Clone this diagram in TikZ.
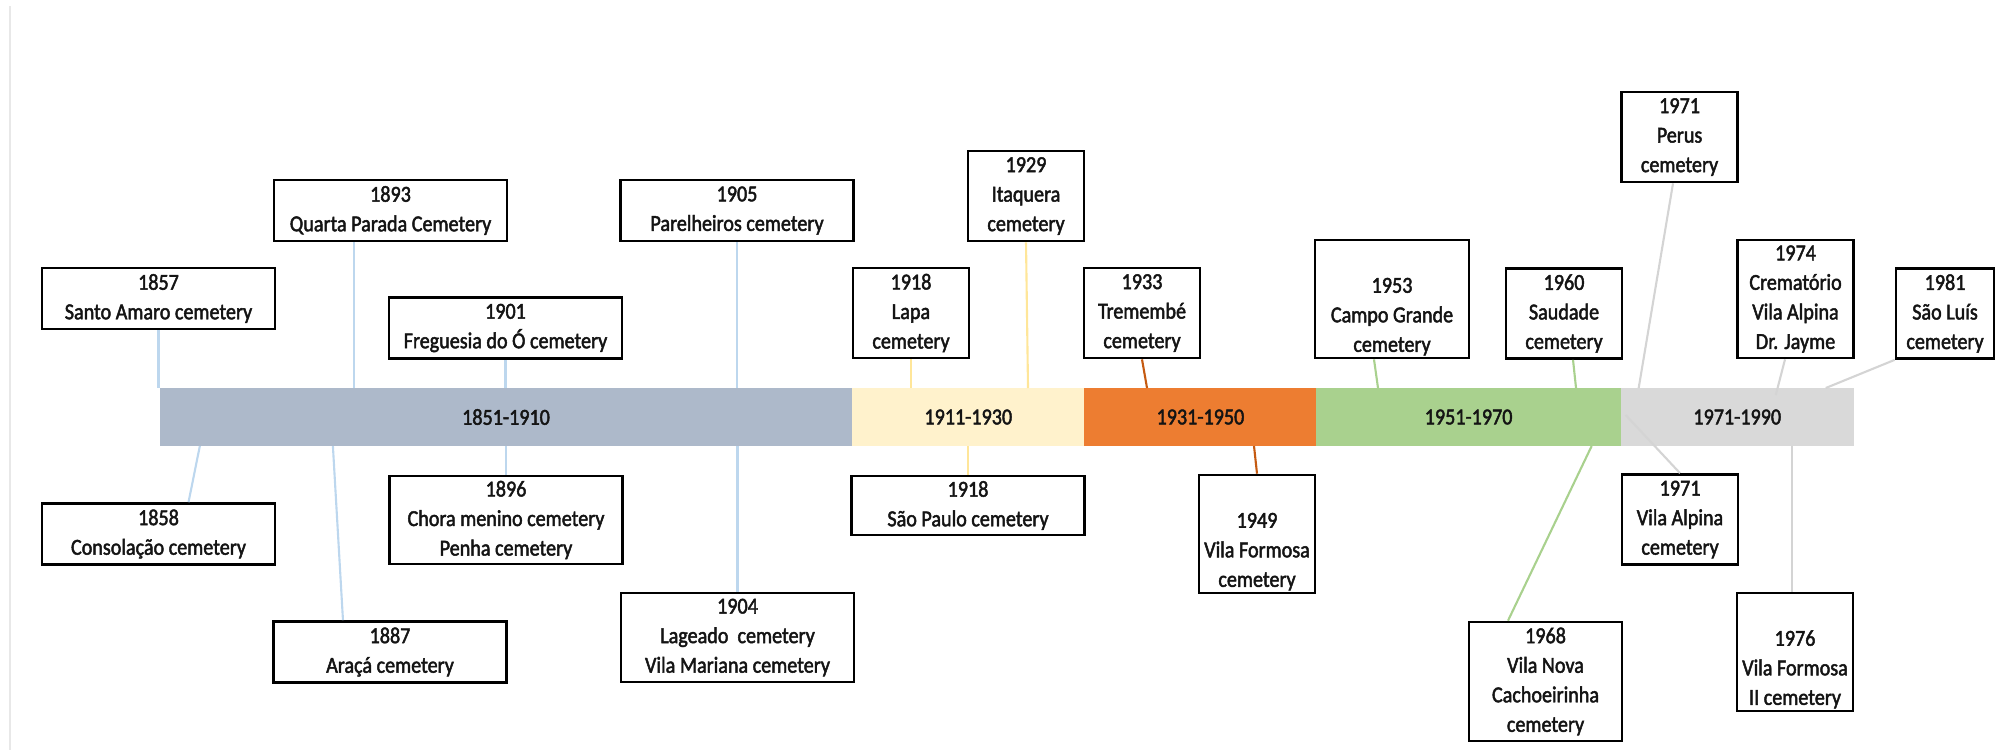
\documentclass[tikz,border=0pt]{standalone}
\usepackage{fontspec}
\setmainfont{Carlito}[FakeStretch=0.88, FakeBold=2]
\usetikzlibrary{positioning}
\definecolor{eraone}{RGB}{173,185,202}
\definecolor{eratwo}{RGB}{255,242,204}
\definecolor{erathree}{RGB}{237,125,49}
\definecolor{erafour}{RGB}{169,209,142}
\definecolor{erafive}{RGB}{217,217,217}
\definecolor{linkone}{RGB}{189,215,238}
\definecolor{linktwo}{RGB}{255,230,153}
\definecolor{linkthree}{RGB}{197,90,17}
\definecolor{linkfour}{RGB}{169,209,142}
\definecolor{linkfive}{RGB}{212,212,212}
\definecolor{textdark}{RGB}{20,20,20}
\definecolor{framegray}{RGB}{232,232,232}

\begin{document}
\begin{tikzpicture}[
    x=0.01cm, y=-0.01cm,
    event/.style={rectangle, draw=black, fill=white, line width=0.75pt, inner sep=0pt, align=center, font=\fontsize{6.5pt}{8.4pt}\selectfont, text=textdark},
    widebox/.style={event, minimum width=2.33cm, minimum height=0.61cm},
    narrowbox/.style={event, minimum width=1.16cm, minimum height=0.90cm},
    tallbox/.style={event, minimum width=1.16cm, minimum height=1.18cm},
    period/.style={rectangle, inner sep=0pt, outer sep=0pt, minimum height=0.58cm, font=\fontsize{6.5pt}{8.4pt}\selectfont, text=textdark},
    link/.style={line width=0.6pt},
]
\useasboundingbox (0,0) rectangle (2004,750);

% page edge
\draw[framegray, line width=0.5pt] (10,6) -- (10,750);

% time bar
\node[period, fill=eraone, minimum width=6.92cm] (p1) at (506,417) {1851-1910};
\node[period, fill=eratwo, minimum width=2.32cm, right=0pt of p1] (p2) {1911-1930};
\node[period, fill=erathree, minimum width=2.32cm, right=0pt of p2] (p3) {1931-1950};
\node[period, fill=erafour, minimum width=3.04cm, right=0pt of p3] (p4) {1951-1970};
\node[period, fill=erafive, minimum width=2.33cm, right=0pt of p4] (p5) {1971-1990};

% 1851-1910
\node[widebox] (sa) at (158.5,298.5) {1857\\Santo Amaro cemetery};
\node[widebox] (qp) at (390.5,210.5) {1893\\Quarta Parada Cemetery};
\node[widebox] (fo) at (505.5,328) {1901\\Freguesia do Ó cemetery};
\node[widebox] (pa) at (737,210.5) {1905\\Parelheiros cemetery};
\node[widebox] (co) at (158.5,534) {1858\\Consolação cemetery};
\node[widebox] (ar) at (390,652) {1887\\Araçá cemetery};
\node[widebox, minimum height=0.88cm] (ch) at (506,520) {1896\\Chora menino cemetery\\Penha cemetery};
\node[widebox, minimum height=0.89cm] (la) at (737.5,637.5) {1904\\Lageado\ \ cemetery\\Vila Mariana cemetery};

% 1911-1930
\node[narrowbox] (lp) at (911,313) {1918\\Lapa\\cemetery};
\node[narrowbox] (it) at (1026,196) {1929\\Itaquera\\cemetery};
\node[widebox, minimum height=0.59cm] (sp) at (968,505.5) {1918\\São Paulo cemetery};

% 1931-1950
\node[narrowbox] (tr) at (1142,313) {1933\\Tremembé\\cemetery};
\node[tallbox] (vf) at (1257,534) {\strut\\1949\\Vila Formosa\\cemetery};

% 1951-1970
\node[tallbox, minimum width=1.54cm] (cg) at (1392,299) {\strut\\1953\\Campo Grande\\cemetery};
\node[narrowbox] (sd) at (1564,313.5) {1960\\Saudade\\cemetery};
\node[tallbox, minimum width=1.53cm, minimum height=1.19cm] (vn) at (1545.5,681.5) {1968\\Vila Nova\\Cachoeirinha\\cemetery};

% 1971-1990
\node[narrowbox] (pe) at (1679.5,137) {1971\\Perus\\cemetery};
\node[narrowbox] (va) at (1680,519.5) {1971\\Vila Alpina\\cemetery};
\node[tallbox] (cr) at (1795.5,299) {1974\\Crematório\\Vila Alpina\\Dr. Jayme};
\node[tallbox] (vf2) at (1795,652) {\strut\\1976\\Vila Formosa\\II cemetery};
\node[narrowbox, minimum width=0.98cm] (sl) at (1945,313.5) {1981\\São Luís\\cemetery};

% links to the bar
\draw[link, linkone] (sa.south) -- (sa.south |- p1.north);
\draw[link, linkone] ([xshift=-0.365cm]qp.south) -- ([xshift=-0.365cm]qp.south |- p1.north);
\draw[link, linkone] (fo.south) -- (fo.south |- p1.north);
\draw[link, linkone] (pa.south) -- (pa.south |- p1.north);
\draw[link, linkone] ([xshift=0.40cm]p1.south west) -- ([xshift=0.30cm]co.north);
\draw[link, linkone] ([xshift=1.73cm]p1.south west) -- ([xshift=-0.47cm]ar.north);
\draw[link, linkone] (p1.south -| ch.north) -- (ch.north);
\draw[link, linkone] (p1.south -| la.north) -- (la.north);

\draw[link, linktwo] (lp.south) -- (lp.south |- p2.north);
\draw[link, linktwo] (it.south) -- ([xshift=0.02cm]it.south |- p2.north);
\draw[link, linktwo] (p2.south -| sp.north) -- (sp.north);

\draw[link, linkthree] (tr.south) -- ([xshift=0.05cm]tr.south |- p3.north);
\draw[link, linkthree] ([xshift=-0.03cm]vf.north |- p3.south) -- (vf.north);

\draw[link, linkfour] ([xshift=-0.18cm]cg.south) -- ([xshift=-0.14cm]cg.south |- p4.north);
\draw[link, linkfour] ([xshift=0.09cm]sd.south) -- ([xshift=0.12cm]sd.south |- p4.north);
\draw[link, linkfour] ([xshift=2.75cm]p4.south west) -- ([xshift=-0.375cm]vn.north);

\draw[link, linkfive] ([xshift=-0.065cm]pe.south) -- ([xshift=0.18cm]p5.north west);
\draw[link, linkfive] ([shift={(0.05cm,-0.27cm)}]p5.north west) -- (va.north);
\draw[link, linkfive] ([xshift=-0.105cm]cr.south) -- ([shift={(1.55cm,-0.07cm)}]p5.north west);
\draw[link, linkfive] ([xshift=-0.03cm]vf2.north |- p5.south) -- ([xshift=-0.03cm]vf2.north);
\draw[link, linkfive] (sl.south west) -- ([xshift=2.05cm]p5.north west);

\end{tikzpicture}
\end{document}
